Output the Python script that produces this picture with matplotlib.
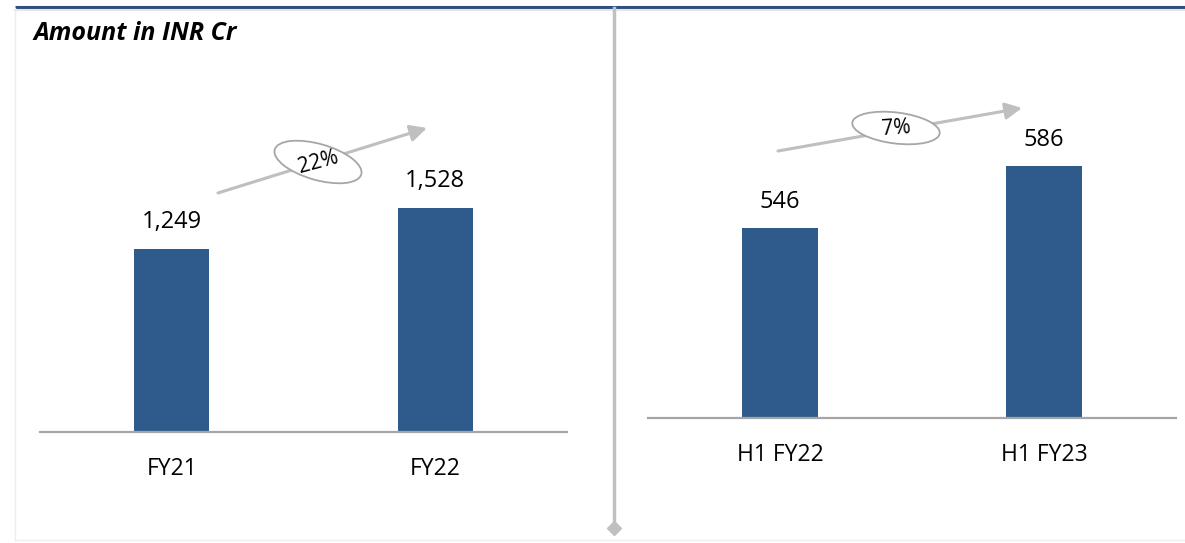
import matplotlib.pyplot as plt
from matplotlib.patches import Ellipse

# datos
left_cats = ['FY21', 'FY22']
left_vals = [1249, 1528]
left_growth = '22%'

right_cats = ['H1 FY22', 'H1 FY23']
right_vals = [546, 586]
right_growth = '7%'

bar_color = '#2F5A8C'
axis_gray = '#A6A6A6'
font = ['Open Sans', 'DejaVu Sans']

W, H = 1185, 543
fig = plt.figure(figsize=(W / 100, H / 100), dpi=100)


def px_axes(x0, y0, x1, y1):
    # rectangulo en pixeles (origen arriba a la izquierda)
    return [x0 / W, 1 - y1 / H, (x1 - x0) / W, (y1 - y0) / H]


def bar_panel(rect, cats, vals, ylim, width):
    ax = fig.add_axes(rect)
    xs = range(len(cats))
    ax.bar(xs, vals, width=width, color=bar_color, zorder=2)
    ax.set_xlim(-0.5, len(cats) - 0.5)
    ax.set_ylim(*ylim)
    for s in ['top', 'right', 'left']:
        ax.spines[s].set_visible(False)
    ax.spines['bottom'].set_color(axis_gray)
    ax.spines['bottom'].set_linewidth(1.6)
    ax.set_yticks([])
    ax.set_xticks(list(xs))
    ax.set_xticklabels(cats, fontsize=16.5, family=font)
    ax.tick_params(axis='x', length=0, pad=18)
    span = ylim[1] - ylim[0]
    for x, v in zip(xs, vals):
        ax.text(x, v + span * 0.069, f'{v:,}', ha='center', va='center',
                fontsize=17, family=font)
    return ax


bar_panel(px_axes(40, 40, 567, 432), left_cats, left_vals, (0, 2674), 0.284)
bar_panel(px_axes(648, 40, 1176, 418), right_cats, right_vals, (423.4, 667.3), 0.29)

# capa de decoracion en pixeles
ov = fig.add_axes([0, 0, 1, 1], zorder=5)
ov.set_xlim(0, W)
ov.set_ylim(H, 0)
ov.axis('off')
ov.patch.set_alpha(0)

# marco
ov.plot([15, 1185], [7, 7], color='#2F4F7F', lw=2.2, solid_capstyle='butt')
ov.plot([15, 1185], [9.5, 9.5], color='#E6E6E6', lw=1.5)
ov.plot([15, 15], [8, 540], color='#EDEDED', lw=1)
ov.plot([15, 1185], [540, 540], color='#EDEDED', lw=1)

# separador vertical
ov.plot([614, 614], [8, 526], color='#C0C0C0', lw=2.5)
ov.plot([614], [528], marker='D', color='#C0C0C0', markersize=7)

ov.text(33, 33, 'Amount in INR Cr', fontsize=18, fontweight='bold',
        fontstyle='italic', family=font, va='center', ha='left')


def growth_arrow(p0, p1, center, ew, eh, angle, label, rot):
    ov.annotate('', xy=p1, xytext=p0,
                arrowprops=dict(arrowstyle='-|>,head_length=1.0,head_width=0.5',
                                color='#BFBFBF', lw=2.2, shrinkA=0, shrinkB=0))
    ov.add_patch(Ellipse(center, ew, eh, angle=angle, facecolor='white',
                         edgecolor='#A6A6A6', lw=1.3, zorder=6))
    ov.text(center[0], center[1], label, ha='center', va='center',
            fontsize=15, family=font, rotation=rot, zorder=7)


growth_arrow((218, 193), (427, 128), (318, 162), 90, 36, 16, left_growth, 15)
growth_arrow((778, 151), (1022, 108), (896, 128), 88, 31, 7, right_growth, 4)

fig.savefig('out.png', dpi=100)
